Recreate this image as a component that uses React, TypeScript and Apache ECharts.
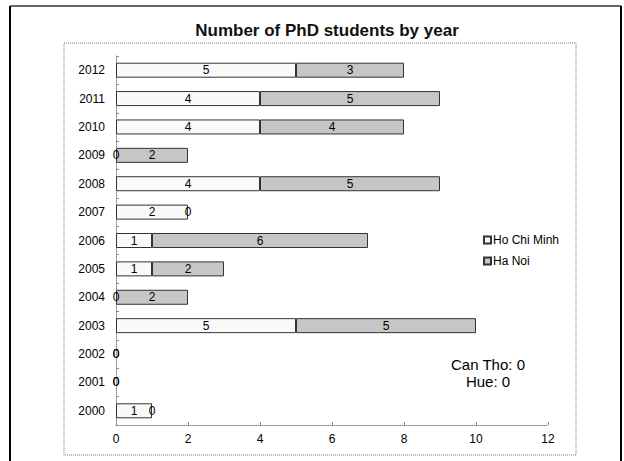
import React, { useEffect, useRef } from "react";
import * as echarts from "echarts";

const years = ["2000", "2001", "2002", "2003", "2004", "2005", "2006", "2007", "2008", "2009", "2010", "2011", "2012"];
const hoChiMinh = [1, 0, 0, 5, 0, 1, 1, 2, 4, 0, 4, 4, 5];
const haNoi = [0, 0, 0, 5, 2, 2, 6, 0, 5, 2, 4, 5, 3];
const xTicks = [0, 2, 4, 6, 8, 10, 12];
const noteLines = ["Can Tho: 0", "Hue: 0"];

const FONT = "'Liberation Sans', Arial, sans-serif";

export default function App() {
  const ref = useRef<HTMLDivElement>(null);
  useEffect(() => {
    if (!ref.current) return;
    const chart = echarts.init(ref.current, null, { renderer: "svg" });
    const labelStyle = {
      show: true,
      position: "inside" as const,
      color: "#000",
      fontSize: 12,
      fontFamily: FONT,
      formatter: (p: any) => (p.value === 0 ? "" : String(p.value)),
    };
    const toItems = (arr: number[]) =>
      arr.map((v) => (v === 0 ? { value: v, itemStyle: { borderWidth: 0, color: "rgba(0,0,0,0)" } } : v));
    // zero-value labels, placed where each zero-length segment sits in the stack
    const zeroPoints: [number, number, number][] = [];
    years.forEach((_, i) => {
      if (hoChiMinh[i] === 0) zeroPoints.push([0, i, 0]);
      if (haNoi[i] === 0) zeroPoints.push([hoChiMinh[i], i, 0]);
    });
    chart.setOption({
      animation: false,
      backgroundColor: "#fff",
      textStyle: { fontFamily: FONT },
      title: {
        text: "Number of PhD students by year",
        left: 322,
        top: 17,
        textAlign: "center",
        textStyle: { fontSize: 17, fontWeight: "bold", color: "#111", fontFamily: FONT },
      },
      legend: {
        orient: "vertical",
        left: 483,
        top: 234,
        padding: 0,
        itemWidth: 7,
        itemHeight: 7,
        itemGap: 9,
        icon: "rect",
        textStyle: { fontSize: 12, color: "#000", fontFamily: FONT, padding: [0, 0, 0, -3] },
        data: ["Ho Chi Minh", "Ha Noi"],
      },
      grid: { left: 116, right: 76, top: 56, bottom: 36, containLabel: false },
      xAxis: {
        type: "value",
        min: xTicks[0],
        max: xTicks[xTicks.length - 1],
        interval: 2,
        axisLine: { show: true, lineStyle: { color: "#888", type: "dotted", width: 1 } },
        axisTick: { show: true, inside: true, length: 3, lineStyle: { color: "#888" } },
        splitLine: { show: false },
        axisLabel: { fontSize: 12, color: "#000", margin: 8, fontFamily: FONT },
      },
      yAxis: {
        type: "category",
        data: years,
        axisLine: { show: true, lineStyle: { color: "#888", type: "dotted", width: 1 } },
        axisTick: { show: true, inside: true, length: 3, lineStyle: { color: "#888" } },
        axisLabel: { fontSize: 12, color: "#000", margin: 11, fontFamily: FONT },
      },
      series: [
        {
          name: "Ho Chi Minh",
          type: "bar",
          stack: "total",
          data: toItems(hoChiMinh),
          barWidth: 15,
          itemStyle: { color: "#fafafa", borderColor: "#333", borderWidth: 1 },
          label: labelStyle,
        },
        {
          name: "Ha Noi",
          type: "bar",
          stack: "total",
          data: toItems(haNoi),
          barWidth: 15,
          itemStyle: { color: "#c6c6c6", borderColor: "#333", borderWidth: 1 },
          label: labelStyle,
        },
        {
          name: "zeros",
          type: "custom",
          data: zeroPoints,
          silent: true,
          z: 5,
          encode: { x: 0, y: 1 },
          renderItem: (_params: any, api: any) => {
            const p = api.coord([api.value(0), api.value(1)]);
            return {
              type: "text",
              x: p[0],
              y: p[1],
              style: {
                text: String(api.value(2)),
                fill: "#000",
                font: `12px ${FONT}`,
                align: "center",
                verticalAlign: "middle",
              },
            };
          },
        },
      ],
      graphic: [
        { type: "rect", shape: { x: 64, y: 43, width: 512, height: 412 }, style: { fill: "none", stroke: "#777", lineWidth: 1, lineDash: [1, 1] }, silent: true },
        { type: "line", shape: { x1: 10, y1: 6, x2: 10, y2: 461 }, style: { stroke: "#000", lineWidth: 2 } },
        { type: "line", shape: { x1: 10, y1: 6, x2: 621, y2: 6 }, style: { stroke: "#333", lineWidth: 1.5 } },
        { type: "line", shape: { x1: 621, y1: 6, x2: 621, y2: 461 }, style: { stroke: "#000", lineWidth: 2 } },
        {
          type: "text",
          x: 488,
          y: 356,
          style: { text: noteLines.join("\n"), fill: "#000", font: `15px ${FONT}`, align: "center", lineHeight: 17 },
          silent: true,
        },
      ],
    });
    return () => chart.dispose();
  }, []);
  return <div ref={ref} style={{ position: "absolute", left: 0, top: 0, width: 624, height: 461 }} />;
}
